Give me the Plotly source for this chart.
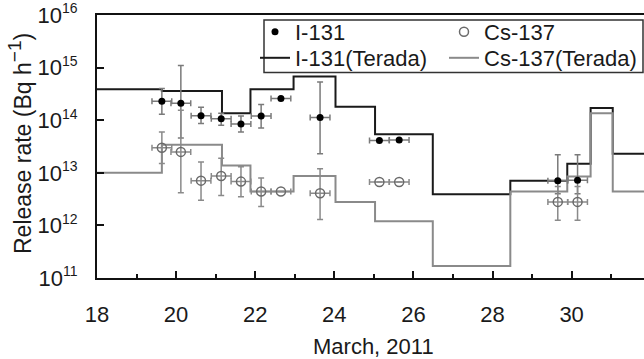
import plotly.graph_objects as go

# ---------------- data ----------------
# Terada step functions (value holds from edge[i] to edge[i+1])
terada_edges = [18.0, 19.64, 21.16, 21.88, 22.97, 24.03, 25.03, 26.49, 28.45, 29.89, 30.48, 31.04, 31.9]
i131_terada = [3.9e14, 3.6e14, 1.35e14, 3.9e14, 6.8e14, 1.8e14, 5.4e13, 3.9e12, 7.1e12, 1.48e13, 1.7e14, 2.3e13]
cs137_terada = [1.0e13, 3.4e13, 1.37e13, 4.4e12, 8.7e12, 2.8e12, 1.2e12, 1.7e11, 4.4e12, 8.5e12, 1.35e14, 4.4e12]

# estimated points
pt_days = [19.64, 20.12, 20.63, 21.14, 21.64, 22.15, 22.65, 23.64, 25.14, 25.64, 29.65, 30.15]
day_err = [0.25] * 12
i131_val = [2.3e14, 2.1e14, 1.22e14, 1.07e14, 8.5e13, 1.2e14, 2.6e14, 1.13e14, 4.1e13, 4.2e13, 7.1e12, 7.2e12]
i131_hi = [4.0e14, 1.1e15, 1.76e14, 1.35e14, 1.2e14, 2.0e14, 2.6e14, 5.3e14, 4.1e13, 4.2e13, 2.2e13, 2.2e13]
i131_lo = [1.3e14, 4.6e13, 8.7e13, 8.0e13, 6.0e13, 7.1e13, 2.6e14, 2.3e13, 4.1e13, 4.2e13, 4.0e12, 4.0e12]
cs137_val = [3.0e13, 2.5e13, 7.1e12, 8.7e12, 6.8e12, 4.4e12, 4.4e12, 4.1e12, 6.7e12, 6.7e12, 2.8e12, 2.8e12]
cs137_hi = [6.0e13, 1.55e14, 1.6e13, 1.9e13, 1.3e13, 8.0e12, 4.4e12, 1.2e13, 6.7e12, 6.7e12, 5.5e12, 5.5e12]
cs137_lo = [1.5e13, 4.2e12, 3.0e12, 3.7e12, 3.5e12, 2.3e12, 4.4e12, 1.3e12, 6.7e12, 6.7e12, 1.26e12, 1.26e12]

x_ticks = [18, 20, 22, 24, 26, 28, 30]
x_minor = [19, 21, 23, 25, 27, 29, 31]
y_exponents = [11, 12, 13, 14, 15, 16]
y_ticks = [10.0 ** e for e in y_exponents]
y_ticktext = ["10<sup><span style=\"font-size:14px\">%d</span></sup>" % e for e in y_exponents]

FONT = "Liberation Sans, Arial, sans-serif"
TXT = "#1a1a1a"

# pixel helpers (plot area: x 97..644, y 15..278)
def px(x):
    return (x - 97) / 547

def py(y):
    return (278 - y) / 263

def step_y(vals):
    return vals + [vals[-1]]

fig = go.Figure()

fig.add_trace(go.Scatter(
    x=terada_edges, y=step_y(i131_terada), mode="lines", line_shape="hv",
    line=dict(color="#1a1a1a", width=2), name="I-131(Terada)",
    legend="legend2", legendwidth=144))
fig.add_trace(go.Scatter(
    x=terada_edges, y=step_y(cs137_terada), mode="lines", line_shape="hv",
    line=dict(color="#8a8a8a", width=2), name="Cs-137(Terada)",
    legend="legend2", legendwidth=155))

fig.add_trace(go.Scatter(
    x=pt_days, y=i131_val, mode="markers", name="I-131",
    legend="legend", legendwidth=144,
    marker=dict(symbol="circle", size=7, color="#000000"),
    error_x=dict(type="data", array=day_err, color="#7a7a7a", thickness=1.5, width=3),
    error_y=dict(type="data", symmetric=False,
                 array=[h - v for h, v in zip(i131_hi, i131_val)],
                 arrayminus=[v - l for v, l in zip(i131_val, i131_lo)],
                 color="#7a7a7a", thickness=1.5, width=3)))
fig.add_trace(go.Scatter(
    x=pt_days, y=cs137_val, mode="markers", name="Cs-137",
    legend="legend", legendwidth=155,
    marker=dict(symbol="circle-open", size=9, color="#6a6a6a", line=dict(width=1.5)),
    error_x=dict(type="data", array=day_err, color="#8a8a8a", thickness=1.5, width=3),
    error_y=dict(type="data", symmetric=False,
                 array=[h - v for h, v in zip(cs137_hi, cs137_val)],
                 arrayminus=[v - l for v, l in zip(cs137_val, cs137_lo)],
                 color="#8a8a8a", thickness=1.5, width=3)))

legend_common = dict(orientation="h", x=px(255), xanchor="left", yanchor="top",
                     bgcolor="rgba(0,0,0,0)", borderwidth=0,
                     font=dict(family=FONT, size=22, color=TXT),
                     itemclick=False, itemdoubleclick=False)

fig.update_layout(
    width=644, height=359, autosize=False,
    margin=dict(l=97, r=0, t=15, b=81),
    paper_bgcolor="white", plot_bgcolor="white",
    font=dict(family=FONT, size=22, color=TXT),
    showlegend=True,
    legend=dict(y=py(11), **legend_common),
    legend2=dict(y=py(37), **legend_common),
    shapes=[dict(type="rect", xref="paper", yref="paper",
                 x0=px(264), x1=px(643), y0=py(72.5), y1=py(20),
                 line=dict(color="#333333", width=1.5), fillcolor="rgba(0,0,0,0)")],
    annotations=[
        dict(text="Release rate (Bq h<sup><span style=\"font-size:19px\">\u22121</span></sup>)",
             textangle=-90, xref="paper", yref="paper", x=px(20), y=py(144),
             xanchor="center", yanchor="middle", showarrow=False,
             font=dict(family=FONT, size=23, color=TXT)),
        dict(text="March, 2011", xref="paper", yref="paper",
             x=px(374), y=py(346),
             xanchor="center", yanchor="middle", showarrow=False,
             font=dict(family=FONT, size=22, color=TXT)),
    ],
)

fig.update_xaxes(
    range=[18, 31.83], tickmode="array", tickvals=x_ticks,
    ticktext=[str(v) for v in x_ticks],
    ticks="inside", ticklen=7, tickwidth=1.5, tickcolor="#111",
    showline=True, linecolor="#111", linewidth=2, mirror=True,
    showgrid=False, zeroline=False, ticklabelstandoff=16,
    minor=dict(tickmode="array", tickvals=x_minor,
               ticks="inside", ticklen=4, tickwidth=1.5, tickcolor="#111"),
)
fig.update_yaxes(
    type="log", range=[11, 16.0005], tickmode="array", tickvals=y_ticks,
    ticktext=y_ticktext, ticklabeloverflow="allow",
    ticks="inside", ticklen=7, tickwidth=1.5, tickcolor="#111",
    showline=True, linecolor="#111", linewidth=2, mirror=False,
    showgrid=False, zeroline=False, ticklabelstandoff=13,
)

fig.write_html("out.html")
